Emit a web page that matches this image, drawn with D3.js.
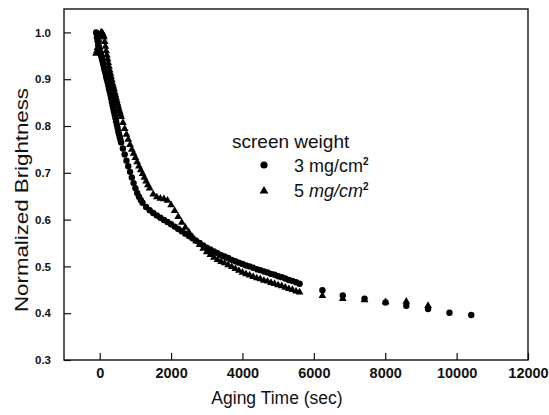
<!DOCTYPE html>
<html>
<head>
<meta charset="utf-8">
<script src="https://cdn.jsdelivr.net/npm/d3@7"></script>
<style>
  body { margin: 0; background: #fff; }
  svg { display: block; font-family: "Liberation Sans", Arial, sans-serif; }
</style>
</head>
<body>
<svg id="chart"></svg>
<script>
// 3 mg/cm2 (circles): aging time (sec) and normalized brightness
const time3 = [-100, -80, -60, -40, -20, 0, 20, 40, 60, 80, 100, 120, 140, 160, 180, 200,
  220, 240, 260, 280, 300, 320, 340, 360, 380, 400, 420, 440, 460, 480, 500, 520, 540, 560,
  580, 600, 650, 700, 750, 800, 850, 900, 950, 1000, 1050, 1100, 1150, 1200, 1300, 1400,
  1500, 1600, 1700, 1800, 1900, 2000, 2100, 2200, 2300, 2400, 2500, 2600, 2700, 2800, 2900,
  3000, 3100, 3200, 3300, 3400, 3500, 3600, 3700, 3800, 3900, 4000, 4100, 4200, 4300, 4400,
  4500, 4600, 4700, 4800, 4900, 5000, 5100, 5200, 5300, 5400, 5500, 5600,
  6240, 6810, 7420, 8010, 8590, 9200, 9800, 10410];
const bright3 = [1.0, 0.99, 0.982, 0.975, 0.968, 0.962, 0.956, 0.95, 0.944, 0.938, 0.932,
  0.925, 0.919, 0.913, 0.906, 0.9, 0.894, 0.887, 0.88, 0.874, 0.867, 0.86, 0.852, 0.845,
  0.838, 0.831, 0.824, 0.817, 0.81, 0.803, 0.796, 0.789, 0.783, 0.777, 0.771, 0.765, 0.752,
  0.739, 0.726, 0.714, 0.702, 0.69, 0.678, 0.667, 0.657, 0.649, 0.642, 0.636, 0.627, 0.62,
  0.614, 0.609, 0.604, 0.599, 0.595, 0.59, 0.585, 0.58, 0.575, 0.57, 0.565, 0.56, 0.555,
  0.55, 0.545, 0.54, 0.536, 0.532, 0.528, 0.524, 0.521, 0.518, 0.514, 0.511, 0.508, 0.505,
  0.502, 0.5, 0.497, 0.494, 0.492, 0.489, 0.487, 0.484, 0.482, 0.479, 0.477, 0.474, 0.471,
  0.469, 0.466, 0.463,
  0.449, 0.438, 0.431, 0.423, 0.416, 0.409, 0.401, 0.396];

// 5 mg/cm2 (triangles)
const time5 = [-100, -80, -60, -40, -20, 0, 20, 40, 60, 80, 100, 120, 140, 160, 180, 200,
  220, 240, 260, 280, 300, 320, 340, 360, 380, 400, 420, 440, 460, 480, 500, 520, 540, 560,
  580, 600, 650, 700, 750, 800, 850, 900, 950, 1000, 1050, 1100, 1150, 1200, 1250, 1300,
  1350, 1400, 1500, 1600, 1700, 1800, 1900, 2000, 2100, 2200, 2300, 2400, 2500, 2600, 2700,
  2800, 2900, 3000, 3100, 3200, 3300, 3400, 3500, 3600, 3700, 3800, 3900, 4000, 4100, 4200,
  4300, 4400, 4500, 4600, 4700, 4800, 4900, 5000, 5100, 5200, 5300, 5400, 5500, 5600,
  6240, 6810, 7420, 8010, 8590, 9200];
const bright5 = [0.955, 0.96, 0.967, 0.975, 0.983, 0.99, 0.995, 1.0, 1.0, 0.998, 0.994,
  0.99, 0.98, 0.97, 0.96, 0.951, 0.943, 0.935, 0.927, 0.919, 0.912, 0.905, 0.898, 0.891,
  0.885, 0.879, 0.872, 0.866, 0.86, 0.854, 0.848, 0.842, 0.836, 0.831, 0.825, 0.82, 0.807,
  0.794, 0.782, 0.771, 0.76, 0.75, 0.741, 0.732, 0.723, 0.714, 0.706, 0.698, 0.69, 0.682,
  0.674, 0.667, 0.654, 0.648, 0.645, 0.644, 0.641, 0.631, 0.619, 0.606, 0.594, 0.583,
  0.573, 0.563, 0.554, 0.546, 0.538, 0.531, 0.525, 0.519, 0.514, 0.51, 0.507, 0.503, 0.499,
  0.495, 0.491, 0.487, 0.484, 0.481, 0.478, 0.475, 0.473, 0.47, 0.468, 0.465, 0.463, 0.46,
  0.458, 0.455, 0.452, 0.45, 0.447, 0.445,
  0.437, 0.431, 0.428, 0.424, 0.425, 0.416];

const xTicks = [0, 2000, 4000, 6000, 8000, 10000, 12000];
const yTicks = [0.3, 0.4, 0.5, 0.6, 0.7, 0.8, 0.9, 1.0];

const width = 549, height = 415;
const margin = { left: 64, right: 528, top: 9, bottom: 360 };

const svg = d3.select("#chart").attr("width", width).attr("height", height);

const x = d3.scaleLinear().domain([-1000, 12000]).range([margin.left, margin.right]);
const y = d3.scaleLinear().domain([0.3, 1.05]).range([margin.bottom, margin.top]);

// axes, ticks pointing inward
const xAxis = svg.append("g")
  .attr("transform", `translate(0,${margin.bottom})`)
  .call(d3.axisBottom(x).tickValues(xTicks).tickFormat(d3.format("d"))
    .tickSize(-7).tickSizeOuter(0).tickPadding(8));
xAxis.selectAll("text")
  .style("font-size", "14.5px")
  .style("font-weight", "bold")
  .attr("fill", "#111");

const yAxis = svg.append("g")
  .attr("transform", `translate(${margin.left},0)`)
  .call(d3.axisLeft(y).tickValues(yTicks).tickFormat(d3.format(".1f"))
    .tickSize(-7).tickSizeOuter(0).tickPadding(13));
yAxis.selectAll("text")
  .style("font-size", "11.5px")
  .style("font-weight", "bold")
  .attr("fill", "#111");

svg.selectAll(".domain").remove();
svg.selectAll(".tick line").attr("stroke", "#111").attr("stroke-width", 1.2);

// frame
svg.append("rect")
  .attr("x", margin.left).attr("y", margin.top)
  .attr("width", margin.right - margin.left).attr("height", margin.bottom - margin.top)
  .attr("fill", "none").attr("stroke", "#111").attr("stroke-width", 1.4);

// data
const d3mg = time3.map((t, i) => ({ t, v: bright3[i] }));
const d5mg = time5.map((t, i) => ({ t, v: bright5[i] }));

const tri = d3.symbol().type(d3.symbolTriangle).size(26);

svg.append("g").selectAll("path")
  .data(d5mg).join("path")
  .attr("transform", (d) => `translate(${x(d.t)},${y(d.v)})`)
  .attr("d", tri)
  .attr("fill", "#000");

svg.append("g").selectAll("circle")
  .data(d3mg).join("circle")
  .attr("cx", (d) => x(d.t))
  .attr("cy", (d) => y(d.v))
  .attr("r", 3.2)
  .attr("fill", "#000");

// legend
const legend = svg.append("g").style("font-size", "18px").attr("fill", "#111");
legend.append("text").attr("x", 232).attr("y", 148)
  .style("font-size", "19px").text("screen weight");

legend.append("circle").attr("cx", 264).attr("cy", 165).attr("r", 3.6).attr("fill", "#000");
const l1 = legend.append("text").attr("x", 294).attr("y", 172);
l1.append("tspan").text("3 mg/cm");
l1.append("tspan").attr("dy", -7).style("font-size", "10px").style("font-weight", "bold").text("2");

legend.append("path")
  .attr("transform", "translate(264,191)")
  .attr("d", d3.symbol().type(d3.symbolTriangle).size(34))
  .attr("fill", "#000");
const l2 = legend.append("text").attr("x", 294).attr("y", 197);
l2.append("tspan").text("5 ");
l2.append("tspan").style("font-style", "italic").text("mg/cm");
l2.append("tspan").attr("dy", -7).style("font-size", "10px").style("font-weight", "bold").text("2");

// axis titles
svg.append("text")
  .attr("x", 277).attr("y", 404)
  .attr("text-anchor", "middle")
  .style("font-size", "17.5px")
  .attr("fill", "#111")
  .text("Aging Time (sec)");

svg.append("text")
  .attr("transform", "translate(28,200) rotate(-90)")
  .attr("text-anchor", "middle")
  .style("font-size", "18px")
  .attr("textLength", 224)
  .attr("lengthAdjust", "spacingAndGlyphs")
  .attr("fill", "#111")
  .text("Normalized Brightness");
</script>
</body>
</html>
